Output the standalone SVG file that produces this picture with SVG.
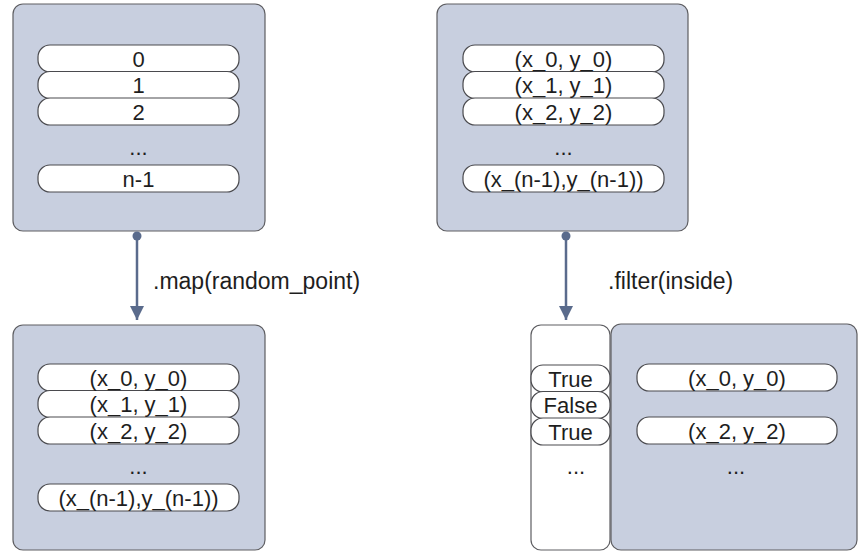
<svg xmlns="http://www.w3.org/2000/svg" width="858" height="552" viewBox="0 0 858 552">
<defs>
<style>
.box{fill:#c8cfdf;stroke:#5e5e62;stroke-width:1.2}
.col{fill:#ffffff;stroke:#5e5e62;stroke-width:1.2}
.pill{fill:#ffffff;stroke:#4a4a4e;stroke-width:1.2}
.t{font-family:"Liberation Sans",Arial,sans-serif;font-size:22px;fill:#1e1e1e;text-anchor:middle}
.lbl{font-family:"Liberation Sans",Arial,sans-serif;font-size:23px;fill:#1e1e1e}
.edge{stroke:#5a6b8c;stroke-width:2.5;fill:none}
.dot{fill:#5a6b8c}
</style>
<marker id="arr" viewBox="0 0 14 18" refX="14" refY="9" markerWidth="14" markerHeight="18" markerUnits="userSpaceOnUse" orient="auto">
<path d="M0,2 L14,9 L0,16 Z" fill="#5a6b8c"/>
</marker>
</defs>

<g id="range">
<rect class="box" x="13" y="4" width="252" height="227" rx="10"/>
<rect class="pill" x="38" y="45" width="201" height="27" rx="12"/>
<rect class="pill" x="38" y="71.5" width="201" height="27" rx="12"/>
<rect class="pill" x="38" y="98" width="201" height="27" rx="12"/>
<rect class="pill" x="38" y="165" width="201" height="27" rx="12"/>
<text class="t" x="138.5" y="66.5">0</text>
<text class="t" x="138.5" y="93">1</text>
<text class="t" x="138.5" y="119.5">2</text>
<text class="t" x="138.5" y="155">...</text>
<text class="t" x="138.5" y="186.5">n-1</text>
</g>

<g id="points-top">
<rect class="box" x="437" y="4" width="251" height="227" rx="10"/>
<rect class="pill" x="463" y="45" width="201" height="27" rx="12"/>
<rect class="pill" x="463" y="71.5" width="201" height="27" rx="12"/>
<rect class="pill" x="463" y="98" width="201" height="27" rx="12"/>
<rect class="pill" x="463" y="165" width="201" height="27" rx="12"/>
<text class="t" x="563.5" y="66.5">(x_0, y_0)</text>
<text class="t" x="563.5" y="93">(x_1, y_1)</text>
<text class="t" x="563.5" y="119.5">(x_2, y_2)</text>
<text class="t" x="563.5" y="155">...</text>
<text class="t" x="563.5" y="186.5">(x_(n-1),y_(n-1))</text>
</g>

<g id="points-bottom">
<rect class="box" x="13" y="325" width="252" height="225" rx="10"/>
<rect class="pill" x="38" y="364" width="201" height="27" rx="12"/>
<rect class="pill" x="38" y="390.5" width="201" height="27" rx="12"/>
<rect class="pill" x="38" y="417" width="201" height="27" rx="12"/>
<rect class="pill" x="38" y="484" width="201" height="27" rx="12"/>
<text class="t" x="138.5" y="385.5">(x_0, y_0)</text>
<text class="t" x="138.5" y="412">(x_1, y_1)</text>
<text class="t" x="138.5" y="438.5">(x_2, y_2)</text>
<text class="t" x="138.5" y="474">...</text>
<text class="t" x="138.5" y="505.5">(x_(n-1),y_(n-1))</text>
</g>

<g id="mask">
<rect class="col" x="531" y="325" width="79" height="225" rx="10"/>
<rect class="pill" x="531" y="365" width="79" height="27" rx="12"/>
<rect class="pill" x="531" y="391.5" width="79" height="27" rx="12"/>
<rect class="pill" x="531" y="418" width="79" height="27" rx="12"/>
<text class="t" x="570.5" y="386.5">True</text>
<text class="t" x="570.5" y="413">False</text>
<text class="t" x="570.5" y="439.5">True</text>
<text class="t" x="576" y="474">...</text>
</g>

<g id="filtered">
<rect class="box" x="611" y="324" width="246" height="226" rx="10"/>
<rect class="pill" x="637" y="364" width="200" height="27" rx="12"/>
<rect class="pill" x="637" y="417" width="200" height="27" rx="12"/>
<text class="t" x="737" y="385.5">(x_0, y_0)</text>
<text class="t" x="737" y="438.5">(x_2, y_2)</text>
<text class="t" x="736" y="474">...</text>
</g>

<g id="connectors">
<line class="edge" x1="137" y1="236" x2="137" y2="320" marker-end="url(#arr)"/>
<circle class="dot" cx="137" cy="236" r="4.5"/>
<text class="lbl" x="153" y="289">.map(random_point)</text>
<line class="edge" x1="566" y1="236" x2="566" y2="320" marker-end="url(#arr)"/>
<circle class="dot" cx="566" cy="236" r="4.5"/>
<text class="lbl" x="608" y="289">.filter(inside)</text>
</g>
</svg>
